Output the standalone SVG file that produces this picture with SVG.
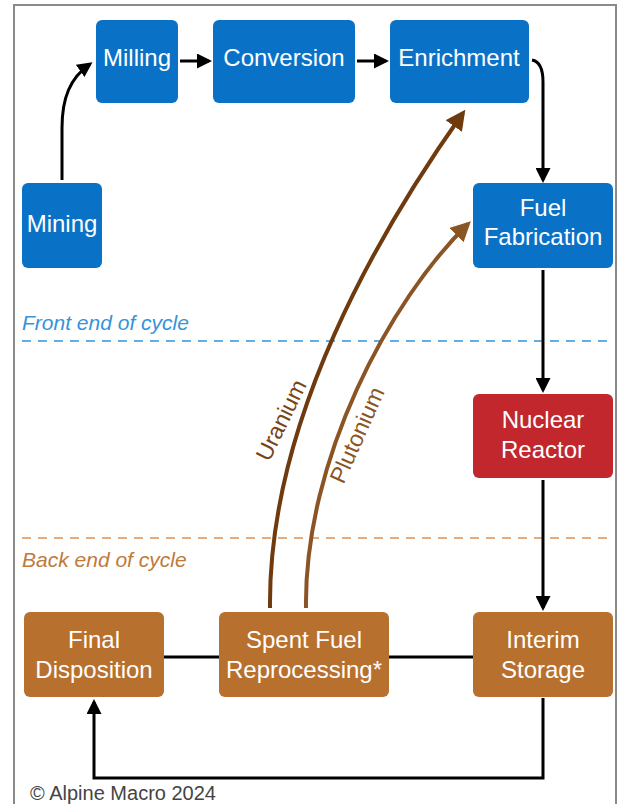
<svg xmlns="http://www.w3.org/2000/svg" width="621" height="804" viewBox="0 0 621 804">
<defs>
<style>
.box{stroke:none}
.blue{fill:#0A72C6}
.red{fill:#C1272D}
.brown{fill:#B8702E}
.nt{font-family:"Liberation Sans",Arial,sans-serif;font-size:24px;fill:#fff;text-anchor:middle}
.conn{fill:none;stroke:#000;stroke-width:3}
.lbl{font-family:"Liberation Sans",Arial,sans-serif;font-size:21px;font-style:italic}
</style>
<marker id="ah" viewBox="0 0 10 10" refX="8" refY="5" markerWidth="5" markerHeight="5" orient="auto" markerUnits="strokeWidth"><path d="M0,0 L10,5 L0,10 z" fill="#000"/></marker>
<marker id="ahU" viewBox="0 0 10 10" refX="8" refY="5" markerWidth="5" markerHeight="5" orient="auto" markerUnits="strokeWidth"><path d="M0,0 L10,5 L0,10 z" fill="#6E3A0E"/></marker>
<marker id="ahP" viewBox="0 0 10 10" refX="8" refY="5" markerWidth="5" markerHeight="5" orient="auto" markerUnits="strokeWidth"><path d="M0,0 L10,5 L0,10 z" fill="#8B5424"/></marker>
</defs>
<rect x="0" y="0" width="621" height="804" fill="#fff"/>
<rect x="14" y="5" width="602" height="820" fill="#fff" stroke="#8a8a8a" stroke-width="2"/>

<g id="dividers">
<line x1="22" y1="341" x2="613" y2="341" stroke="#62AEE3" stroke-width="2" stroke-dasharray="9,7"/>
<text class="lbl" x="22" y="330" fill="#3593DA">Front end of cycle</text>
<line x1="22" y1="538" x2="613" y2="538" stroke="#E8AC78" stroke-width="2" stroke-dasharray="9,7"/>
<text class="lbl" x="22" y="567" fill="#C07A3A">Back end of cycle</text>
</g>

<g id="connectors">
<path class="conn" d="M62,180 V128 C62,98 70,78 90,64" marker-end="url(#ah)"/>
<path class="conn" d="M180,61 H209" marker-end="url(#ah)"/>
<path class="conn" d="M357,61 H386" marker-end="url(#ah)"/>
<path class="conn" d="M532,60 Q543,62 543,82 V180" marker-end="url(#ah)"/>
<path class="conn" d="M543,270 V390" marker-end="url(#ah)"/>
<path class="conn" d="M543,480 V608" marker-end="url(#ah)"/>
<path class="conn" d="M543,698 V778 H94 V702" marker-end="url(#ah)"/>
<path class="conn" d="M164,657 H219"/>
<path class="conn" d="M389,657 H473"/>
<path d="M270,608 C268,420 380,230 463,113" fill="none" stroke="#6E3A0E" stroke-width="4" marker-end="url(#ahU)"/>
<path d="M306,608 C304,460 390,300 468,224" fill="none" stroke="#8B5424" stroke-width="4" marker-end="url(#ahP)"/>
<text x="281" y="428" transform="rotate(-64 281 420)" font-family="Liberation Sans,Arial,sans-serif" font-size="23" fill="#7A4416" text-anchor="middle">Uranium</text>
<text x="357" y="443" transform="rotate(-66 357 435)" font-family="Liberation Sans,Arial,sans-serif" font-size="23" fill="#8B5424" text-anchor="middle">Plutonium</text>
</g>

<g id="milling"><rect class="box blue" x="96" y="20" width="82" height="83" rx="6"/><text class="nt" x="137" y="66">Milling</text></g>
<g id="conversion"><rect class="box blue" x="213" y="20" width="142" height="83" rx="6"/><text class="nt" x="284" y="66">Conversion</text></g>
<g id="enrichment"><rect class="box blue" x="390" y="20" width="139" height="83" rx="6"/><text class="nt" x="459" y="66">Enrichment</text></g>
<g id="mining"><rect class="box blue" x="22" y="183" width="80" height="85" rx="6"/><text class="nt" x="62" y="232">Mining</text></g>
<g id="fuel-fabrication"><rect class="box blue" x="473" y="183" width="140" height="85" rx="6"/><text class="nt" x="543" y="216">Fuel</text><text class="nt" x="543" y="245">Fabrication</text></g>
<g id="nuclear-reactor"><rect class="box red" x="473" y="394" width="140" height="84" rx="6"/><text class="nt" x="543" y="428">Nuclear</text><text class="nt" x="543" y="458">Reactor</text></g>
<g id="final-disposition"><rect class="box brown" x="24" y="612" width="140" height="85" rx="6"/><text class="nt" x="94" y="648">Final</text><text class="nt" x="94" y="678">Disposition</text></g>
<g id="spent-fuel-reprocessing"><rect class="box brown" x="219" y="612" width="170" height="85" rx="6"/><text class="nt" x="304" y="648">Spent Fuel</text><text class="nt" x="304" y="678">Reprocessing*</text></g>
<g id="interim-storage"><rect class="box brown" x="473" y="612" width="140" height="85" rx="6"/><text class="nt" x="543" y="648">Interim</text><text class="nt" x="543" y="678">Storage</text></g>

<text x="30" y="800" font-family="Liberation Sans,Arial,sans-serif" font-size="20" fill="#444">© Alpine Macro 2024</text>
</svg>
